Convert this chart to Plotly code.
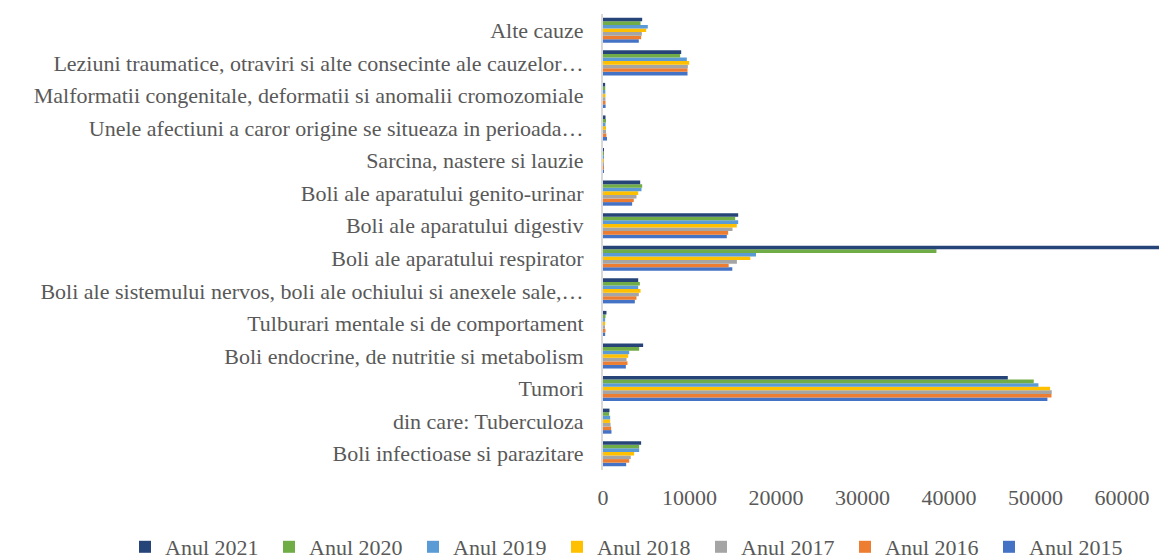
import plotly.graph_objects as go

categories = [
    "Boli infectioase si parazitare",
    "din care: Tuberculoza",
    "Tumori",
    "Boli endocrine, de nutritie si metabolism",
    "Tulburari mentale si de comportament",
    "Boli ale sistemului nervos, boli ale ochiului si anexele sale,…",
    "Boli ale aparatului respirator",
    "Boli ale aparatului digestiv",
    "Boli ale aparatului genito-urinar",
    "Sarcina, nastere si lauzie",
    "Unele afectiuni a caror origine se situeaza in perioada…",
    "Malformatii congenitale, deformatii si anomalii cromozomiale",
    "Leziuni traumatice, otraviri si alte consecinte ale cauzelor…",
    "Alte cauze",
]

anul_2015 = [2680, 980, 51380, 2640, 250, 3680, 14950, 14310, 3370, 25, 460, 300, 9770, 4140]
anul_2016 = [3030, 940, 51850, 2830, 290, 3870, 14530, 14470, 3560, 20, 390, 290, 9770, 4410]
anul_2017 = [3210, 870, 51880, 2720, 210, 4140, 15480, 14970, 3870, 20, 350, 280, 9810, 4490]
anul_2018 = [3600, 830, 51690, 2910, 250, 4340, 17030, 15470, 4070, 18, 350, 280, 9960, 4990]
anul_2019 = [4180, 830, 50340, 3030, 250, 4070, 17690, 15630, 4450, 15, 290, 270, 9690, 5180]
anul_2020 = [4180, 710, 49800, 4180, 290, 4260, 38550, 15280, 4530, 20, 350, 260, 8920, 4340]
anul_2021 = [4410, 750, 46800, 4640, 400, 4070, 72000, 15630, 4300, 40, 290, 250, 9040, 4530]

series = [
    ("Anul 2015", anul_2015, "#4472C4"),
    ("Anul 2016", anul_2016, "#ED7D31"),
    ("Anul 2017", anul_2017, "#A5A5A5"),
    ("Anul 2018", anul_2018, "#FFC000"),
    ("Anul 2019", anul_2019, "#5B9BD5"),
    ("Anul 2020", anul_2020, "#70AD47"),
    ("Anul 2021", anul_2021, "#264478"),
]

tick_vals = [0, 10000, 20000, 30000, 40000, 50000, 60000]

FONT = "Liberation Serif, serif"
GREY = "#595959"

fig = go.Figure()
for name, vals, color in series:
    fig.add_trace(go.Bar(
        y=categories, x=vals, name=name, orientation="h",
        marker=dict(color=color, line=dict(width=0)),
    ))

fig.update_layout(
    width=1159, height=559,
    barmode="group", bargap=0.23, bargroupgap=0,
    plot_bgcolor="white", paper_bgcolor="white",
    margin=dict(l=603, r=0, t=14, b=89, autoexpand=False),
    font=dict(family=FONT, color=GREY, size=21),
    xaxis=dict(
        range=[0, 64280], tickvals=tick_vals, ticktext=[str(v) for v in tick_vals],
        showgrid=False, zeroline=False, showline=False,
        tickfont=dict(family=FONT, size=22, color=GREY), ticks="",
        ticklabelstandoff=12,
    ),
    yaxis=dict(
        type="category", categoryorder="array", categoryarray=categories,
        showgrid=False, zeroline=False, showline=True, linecolor="#D9D9D9", linewidth=2,
        ticks="", tickfont=dict(family=FONT, size=22, color=GREY),
        ticklabelstandoff=13,
    ),
    legend=dict(
        orientation="h", traceorder="reversed",
        x=(125 - 603) / 556, xanchor="left", y=(470 - 547) / 456, yanchor="middle",
        font=dict(family=FONT, size=22, color=GREY),
        entrywidth=99, entrywidthmode="pixels",
    ),
    showlegend=True,
)

fig.write_html(
    "out.html",
    config={"displayModeBar": False},
    post_script="document.body.style.margin='0';",
)
